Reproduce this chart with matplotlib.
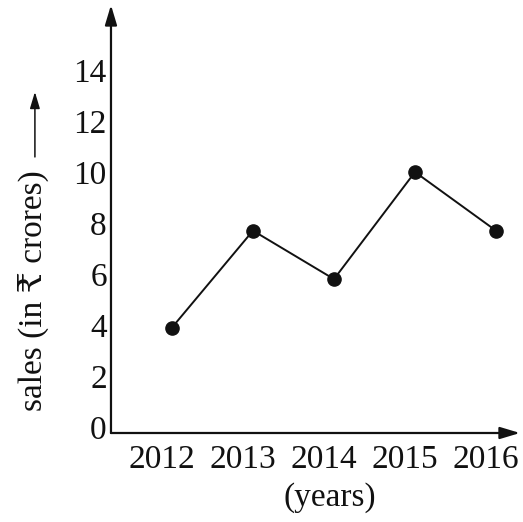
import matplotlib.pyplot as plt
from matplotlib.transforms import ScaledTranslation

# datos
years = [2012, 2013, 2014, 2015, 2016]
sales = [3.9, 7.7, 5.8, 10, 7.7]
y_ticks = [0, 2, 4, 6, 8, 10, 12, 14]

plt.rcParams['font.family'] = ['Liberation Serif', 'DejaVu Serif', 'DejaVu Sans']

fig = plt.figure(figsize=(5.23, 5.22), dpi=100)
ax = fig.add_axes([0.2122, 0.1705, 0.782, 0.8199])
ax.set_xlim(2011.247, 2016.296)
ax.set_ylim(-0.235, 16.55)

# linea con puntos
ax.plot(years, sales, color='#111111', lw=1.4, marker='o', markersize=9.5,
        markerfacecolor='#111111', markeredgecolor='#111111')

# ejes con flechas
for s in ax.spines.values():
    s.set_visible(False)
flecha = dict(arrowstyle='-|>,head_length=1.0,head_width=0.3', lw=1.6,
              color='#111111', mutation_scale=12, shrinkA=0, shrinkB=0)
ax.annotate('', xy=(1, 0), xytext=(0, 0), xycoords='axes fraction', arrowprops=flecha)
ax.annotate('', xy=(0, 1), xytext=(0, 0), xycoords='axes fraction', arrowprops=flecha)

ax.set_yticks(y_ticks)
ax.set_yticklabels([str(t) for t in y_ticks])
ax.set_xticks(years)
ax.set_xticklabels([str(y) for y in years])
ax.tick_params(length=0, labelsize=24, colors='#111111')
ax.tick_params(axis='y', pad=3)
ax.tick_params(axis='x', pad=8)

# etiquetas del eje x un poco a la izquierda de los puntos
off = ScaledTranslation(-10 / 100, 0, fig.dpi_scale_trans)
for lab in ax.get_xticklabels():
    lab.set_transform(lab.get_transform() + off)

ax.text(0.535, -0.152, '(years)', transform=ax.transAxes, ha='center', va='center',
        fontsize=24, color='#111111')
ax.text(-0.19, 0.332, 'sales (in ₹ crores)', transform=ax.transAxes, rotation=90,
        ha='center', va='center', fontsize=24, color='#111111')
ax.annotate('', xy=(-0.186, 0.797), xytext=(-0.186, 0.645), xycoords='axes fraction',
            arrowprops=dict(arrowstyle='-|>,head_length=1.0,head_width=0.3', lw=1.1,
                            color='#111111', mutation_scale=10, shrinkA=0, shrinkB=0),
            annotation_clip=False)

fig.savefig('out.png', dpi=100)
